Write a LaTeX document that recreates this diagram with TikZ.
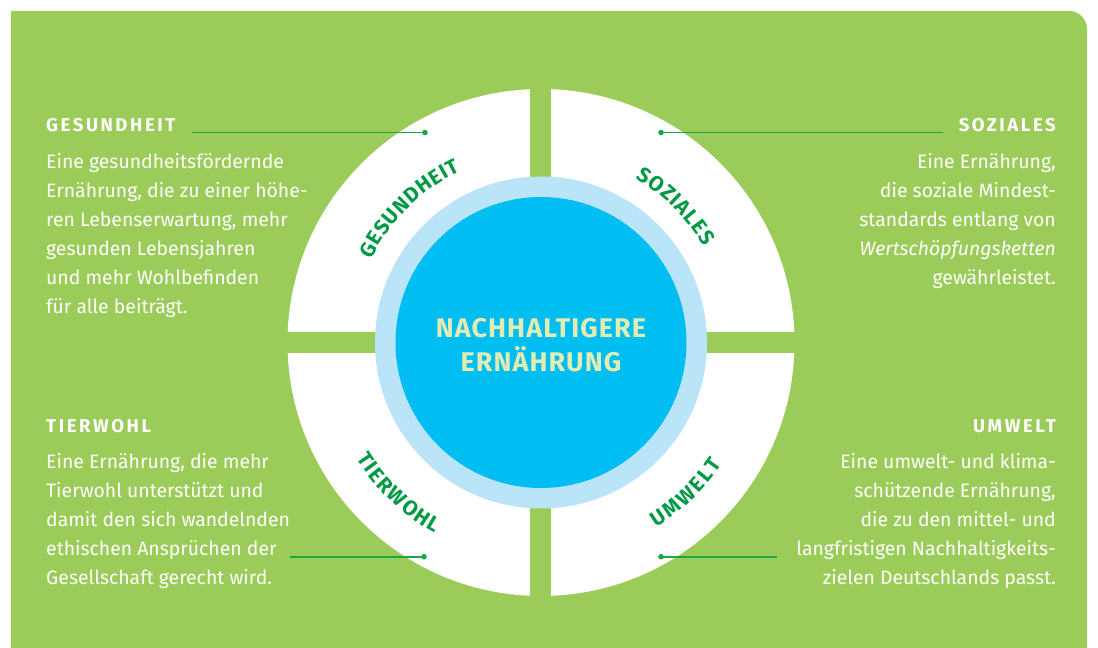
\documentclass[tikz,border=0pt]{standalone}
\usepackage{fontspec}
\setmainfont{Fira Sans}
\newfontfamily\headfont[LetterSpace=14]{Fira Sans}
\newfontfamily\ctrfont[LetterSpace=4]{Fira Sans}
\usetikzlibrary{decorations.text}
\definecolor{bggreen}{RGB}{155,203,89}
\definecolor{ringblue}{RGB}{186,228,248}
\definecolor{coreblue}{RGB}{0,190,242}
\definecolor{labgreen}{RGB}{0,154,68}
\definecolor{linegreen}{RGB}{28,166,74}
\definecolor{ctrtext}{RGB}{226,236,178}
\begin{document}
\begin{tikzpicture}[x=1pt,y=1pt,
  body/.style={inner sep=0pt, text=white, font=\fontsize{19.4}{29}\selectfont},
  head/.style={inner sep=0pt, text=white, font=\headfont\bfseries\fontsize{18.5}{20}\selectfont},
  conn/.style={draw=linegreen, line width=1.8pt},
  dotmark/.style={fill=linegreen},
  arclabel/.style={decorate, decoration={text along path, text align=fit to path, text color=labgreen, text={|\bfseries\fontsize{21}{24}\selectfont|#1}}}
]
\useasboundingbox (-541,-305.5) rectangle (557,342.5);
% background
\fill[bggreen] (-530,-305.5) -- (-530,331.5) -- (528,331.5) arc[start angle=90,end angle=0,radius=18] -- (546,-305.5) -- cycle;
% quadrants
\fill[white] (0,0) circle (253.5);
\fill[bggreen] (-10.5,-260) rectangle (10.5,260);
\fill[bggreen] (-260,-10.5) rectangle (260,10.5);
\fill[ringblue] (0,0) circle (166);
\fill[coreblue] (0,0) circle (145.5);
% arc labels
\path[arclabel={GESUNDHEIT}] (154:189) arc[start angle=154,end angle=115,radius=189];
\path[arclabel={SOZIALES}] (60:189) arc[start angle=60,end angle=30.5,radius=189];
\path[arclabel={TIERWOHL}] (212:218) arc[start angle=212,end angle=241,radius=218];
\path[arclabel={UMWELT}] (302:218) arc[start angle=302,end angle=326,radius=218];
% centre
\node[inner sep=0pt, anchor=base, text=ctrtext, font=\ctrfont\bfseries\fontsize{27}{31}\selectfont] (centre) at (0,5.2)
  {\begin{tabular}[t]{@{}c@{}}NACHHALTIGERE\\ERNÄHRUNG\end{tabular}};
% headings
\node[head, anchor=base west] (gesHead) at (-495,210.5) {GESUNDHEIT};
\node[head, anchor=base east] (sozHead) at (515,210.5) {SOZIALES};
\node[head, anchor=base west] (tierHead) at (-495,-89.5) {TIERWOHL};
\node[head, anchor=base east] (umwHead) at (515,-89.5) {UMWELT};
% bodies
\node[body, anchor=base west] (gesBody) at (-495,174.2) {\begin{tabular}[t]{@{}l@{}}
Eine gesundheitsfördernde\\
Ernährung, die zu einer höhe-\\
ren Lebenserwartung, mehr\\
gesunden Lebensjahren\\
und mehr Wohlbefinden\\
für alle beiträgt.\end{tabular}};
\node[body, anchor=base east] (sozBody) at (515,174.2) {\begin{tabular}[t]{@{}r@{}}
Eine Ernährung,\\
die soziale Mindest-\\
standards entlang von\\
\textit{Wertschöpfungsketten}\\
gewährleistet.\end{tabular}};
\node[body, anchor=base west] (tierBody) at (-495,-125.5) {\begin{tabular}[t]{@{}l@{}}
Eine Ernährung, die mehr\\
Tierwohl unterstützt und\\
damit den sich wandelnden\\
ethischen Ansprüchen der\\
Gesellschaft gerecht wird.\end{tabular}};
\node[body, anchor=base east] (umwBody) at (515,-125.5) {\begin{tabular}[t]{@{}r@{}}
Eine umwelt- und klima-\\
schützende Ernährung,\\
die zu den mittel- und\\
langfristigen Nachhaltigkeits-\\
zielen Deutschlands passt.\end{tabular}};
% connectors
\coordinate (gesStart) at (-349,210);
\coordinate (gesDot) at (-116,210);
\coordinate (sozDot) at (120,210);
\coordinate (sozEnd) at (402,210);
\coordinate (tierStart) at (-251,-214.2);
\coordinate (tierDot) at (-117,-214.2);
\coordinate (umwDot) at (120,-214.2);
\coordinate (umwEnd) at (236,-214.2);
\draw[conn] (gesStart) -- (gesDot);
\draw[conn] (sozDot) -- (sozEnd);
\draw[conn] (tierStart) -- (tierDot);
\draw[conn] (umwDot) -- (umwEnd);
\foreach \d in {gesDot,sozDot,tierDot,umwDot} \fill[dotmark] (\d) circle (2.8);
\end{tikzpicture}
\end{document}
